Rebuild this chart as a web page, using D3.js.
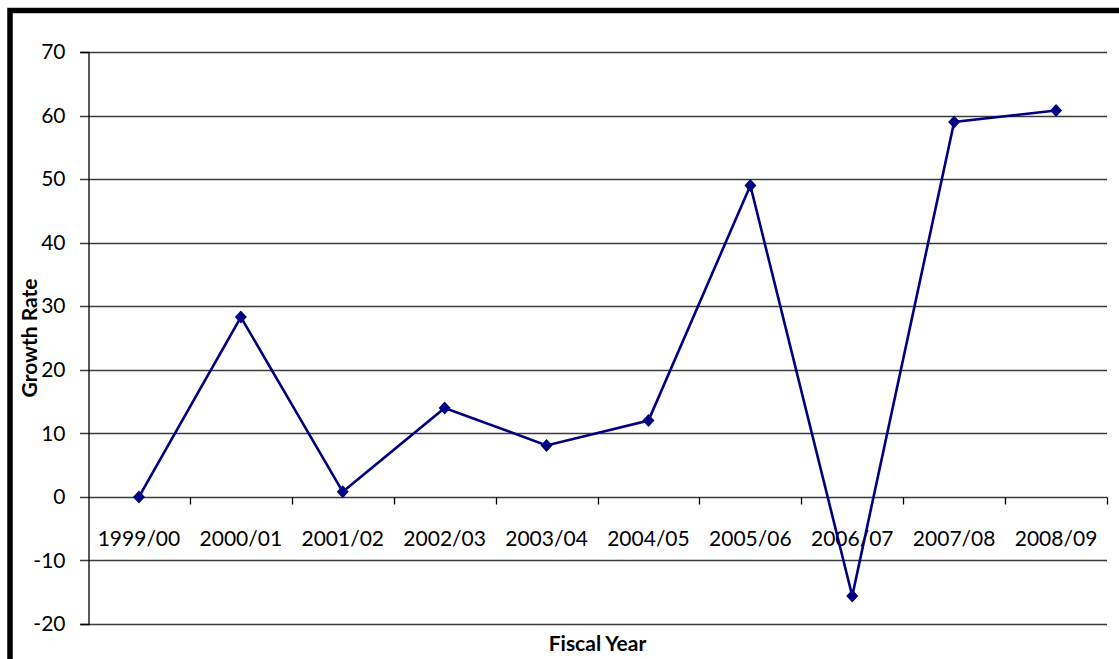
<!DOCTYPE html>
<html>
<head>
<meta charset="utf-8">
<script src="https://cdn.jsdelivr.net/npm/d3@7"></script>
<style>
  html, body { margin: 0; padding: 0; background: #fff; }
  svg { display: block; }
  text { font-family: Lato, "Open Sans", "DejaVu Sans", sans-serif; fill: #000; }
</style>
</head>
<body>
<svg id="chart" width="1119" height="659"></svg>
<script>
const categories = ["1999/00","2000/01","2001/02","2002/03","2003/04","2004/05","2005/06","2006/07","2007/08","2008/09"];
const growthRate = [0, 28.3, 0.8, 14.0, 8.1, 12.0, 49.0, -15.6, 59.0, 60.8];
const yTicks = [-20, -10, 0, 10, 20, 30, 40, 50, 60, 70];
const xTitle = "Fiscal Year";
const yTitle = "Growth Rate";

(function () {
const svg = d3.select("#chart");
const W = 1119, H = 659;
const mLeft = 88, mRight = 1107, mTop = 52, mBottom = 624;

// frame
svg.append("path")
  .attr("d", `M10,${H + 5} L10,10.5 L${W + 5},10.5`)
  .attr("fill", "none").attr("stroke", "#000").attr("stroke-width", 5.5);

const x = d3.scaleBand().domain(categories).range([mLeft, mRight]).paddingInner(0).paddingOuter(0);
const y = d3.scaleLinear().domain([-20, 70]).range([mBottom, mTop]);

// gridlines
svg.append("g").selectAll("line").data(yTicks).join("line")
  .attr("x1", mLeft - 8).attr("x2", mRight)
  .attr("y1", d => Math.round(y(d)) + 0.5).attr("y2", d => Math.round(y(d)) + 0.5)
  .attr("stroke", "#3a3a3a").attr("stroke-width", 1.3);

// y axis
const yAxis = svg.append("g").attr("transform", `translate(${mLeft + 0.5},0)`)
  .call(d3.axisLeft(y).tickValues(yTicks).tickSize(8).tickPadding(15).tickFormat(d => String(d)));
yAxis.select(".domain").attr("stroke", "#000").attr("stroke-width", 1.3);
yAxis.selectAll(".tick line").remove();
yAxis.selectAll("text").attr("font-size", 21).attr("font-family", "Lato, 'Open Sans', sans-serif").attr("fill", "#000");

// x axis at zero
const zeroY = Math.round(y(0)) + 0.5;
const xAxisG = svg.append("g").attr("transform", `translate(0,${zeroY})`);
const bounds = categories.map(c => x(c)).concat([mRight]);
xAxisG.selectAll("line.tk").data(bounds.slice(1)).join("line").attr("class", "tk")
  .attr("x1", d => Math.round(d) + 0.5).attr("x2", d => Math.round(d) + 0.5)
  .attr("y1", 0).attr("y2", 7).attr("stroke", "#000").attr("stroke-width", 1.3);
xAxisG.selectAll("text").data(categories).join("text")
  .attr("x", d => x(d) + x.bandwidth() / 2)
  .attr("y", 48)
  .attr("text-anchor", "middle")
  .attr("font-size", 21)
  .text(d => d);

// line
const line = d3.line().x((d, i) => x(categories[i]) + x.bandwidth() / 2).y(d => y(d));
svg.append("path").datum(growthRate)
  .attr("d", line).attr("fill", "none").attr("stroke", "#000080").attr("stroke-width", 2.6)
  .attr("stroke-linejoin", "miter");

// markers
svg.append("g").selectAll("path").data(growthRate).join("path")
  .attr("transform", (d, i) => `translate(${x(categories[i]) + x.bandwidth() / 2},${y(d)})`)
  .attr("d", "M0,-6.5 L6,0 L0,6.5 L-6,0 Z")
  .attr("fill", "#000080");

// titles
svg.append("text").attr("x", (mLeft + mRight) / 2).attr("y", 651)
  .attr("text-anchor", "middle").attr("font-size", 21).attr("font-weight", "bold").text(xTitle);
svg.append("text").attr("transform", `translate(37,${(mTop + mBottom) / 2}) rotate(-90)`)
  .attr("text-anchor", "middle").attr("font-size", 21).attr("font-weight", "bold").text(yTitle);
})();
</script>
</body>
</html>
